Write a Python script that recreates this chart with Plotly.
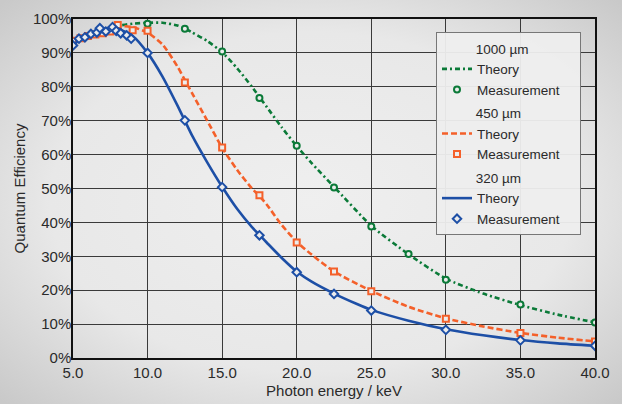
import base64
import plotly.graph_objects as go

# ---------------- data ----------------
# 1000 um
th1000_x = [5, 6, 7, 8, 9, 10, 11, 12, 12.5, 13, 14, 15, 16, 17, 17.5, 18, 19, 20, 21, 22.5, 25, 27.5, 30, 32.5, 35, 37.5, 40]
th1000_y = [93.5, 95.5, 97, 98, 98.6, 98.9, 98.9, 98.1, 97.2, 96, 93.5, 90.2, 85.5, 80, 77, 74, 68, 62.5, 57.5, 50.5, 39, 30.6, 23.4, 19.0, 15.6, 12.8, 10.5]
me1000_x = [10, 12.5, 15, 17.5, 20, 22.5, 25, 27.5, 30, 35, 40]
me1000_y = [98.6, 97.1, 90.4, 76.7, 62.6, 50.3, 38.8, 30.7, 23.1, 15.8, 10.5]

# 450 um
th450_x = [5, 6, 7, 8, 9, 10, 11, 12, 12.5, 13, 14, 15, 16, 17, 17.5, 18, 19, 20, 21, 22.5, 25, 27.5, 30, 32.5, 35, 37.5, 40]
th450_y = [93.5, 95.2, 96.8, 97.9, 97.6, 96, 92.5, 86, 82, 78, 70, 62, 55.5, 50, 47.8, 45.2, 39.2, 34.3, 30.5, 25.5, 19.8, 15.1, 11.7, 9.3, 7.4, 6.0, 4.9]
me450_x = [5, 5.5, 6, 6.5, 7, 7.5, 8, 9, 10, 12.5, 15, 17.5, 20, 22.5, 25, 30, 35, 40]
me450_y = [93.6, 94.3, 95.0, 95.4, 95.8, 96.3, 98.2, 96.7, 96.5, 81.3, 62.1, 48.0, 34.1, 25.5, 19.7, 11.6, 7.4, 4.9]

# 320 um
th320_x = [5, 6, 7, 7.7, 8, 9, 10, 11, 12, 12.5, 13, 14, 15, 16, 17, 17.5, 18, 19, 20, 21, 22.5, 24, 25, 27.5, 30, 32.5, 35, 37.5, 40]
th320_y = [92.5, 95, 97, 97.5, 97.2, 95, 90, 83, 74.5, 70, 65.5, 57.7, 50.5, 44, 38.6, 36.3, 34, 29.5, 25.5, 22.5, 19, 16, 14.2, 11, 8.5, 6.7, 5.3, 4.3, 3.6]
me320_x = [5, 5.4, 5.8, 6.2, 6.6, 6.8, 7.2, 7.65, 7.9, 8.2, 8.6, 8.9, 10, 12.5, 15, 17.5, 20, 22.5, 25, 30, 35, 40]
me320_y = [92.2, 94.2, 94.6, 95.6, 96.0, 97.3, 96.3, 97.6, 96.5, 95.8, 95.2, 94.2, 90.0, 70.1, 50.4, 36.2, 25.3, 18.9, 14.0, 8.3, 5.2, 3.6]

x_ticks = [5, 10, 15, 20, 25, 30, 35, 40]
y_ticks = [0, 10, 20, 30, 40, 50, 60, 70, 80, 90, 100]

GREEN = "#0b7a38"
ORANGE = "#f4602a"
BLUE = "#1d4fa6"
MFILL = "#ececec"
TXT = "#2a2a2a"
FONT = "Liberation Sans, Arial, Helvetica, sans-serif"

W, H = 622, 404
ML, MR, MT, MB = 73, 27, 19, 46
PW, PH = W - ML - MR, H - MT - MB
LEG_FS = 13.5
NB = "\u00a0"

fig = go.Figure()

def add_group(name, tx, ty, mx, my, color, dash, symbol, size):
    fig.add_trace(go.Scatter(
        x=tx, y=ty, mode="lines", name="Theory",
        line=dict(color=color, width=2.6, dash=dash, shape="spline", smoothing=0.6),
        legendgroup=name, legendgrouptitle=dict(text=NB * 9 + name, font=dict(size=LEG_FS, color=TXT))))
    fig.add_trace(go.Scatter(
        x=mx, y=my, mode="markers", name="Measurement" + NB * 4,
        marker=dict(symbol=symbol, size=size, color=MFILL,
                    line=dict(color=color, width=2)),
        legendgroup=name))

add_group("1000 µm", th1000_x, th1000_y, me1000_x, me1000_y, GREEN, "5px,3px,2px,3px", "circle", 6)
add_group("450 µm", th450_x, th450_y, me450_x, me450_y, ORANGE, "6px,3px", "square", 6)
add_group("320 µm", th320_x, th320_y, me320_x, me320_y, BLUE, "solid", "diamond", 6.5)

# soft vignette background
svg = (f'<svg xmlns="http://www.w3.org/2000/svg" width="{W}" height="{H}">'
       '<defs><radialGradient id="g" cx="50%" cy="50%" r="70%">'
       '<stop offset="0%" stop-color="#efefef"/><stop offset="60%" stop-color="#e8e8e8"/>'
       '<stop offset="100%" stop-color="#c9c9c9"/></radialGradient></defs>'
       f'<rect width="{W}" height="{H}" fill="url(#g)"/></svg>')
src = "data:image/svg+xml;base64," + base64.b64encode(svg.encode()).decode()

fig.update_layout(
    width=W, height=H,
    margin=dict(l=ML, r=MR, t=MT, b=MB, autoexpand=False),
    paper_bgcolor="#e6e6e6",
    plot_bgcolor="rgba(0,0,0,0)",
    font=dict(family=FONT, size=15, color=TXT),
    images=[dict(source=src, xref="paper", yref="paper",
                 x=-ML / PW, y=1 + MT / PH, sizex=W / PW, sizey=H / PH,
                 xanchor="left", yanchor="top", sizing="stretch", layer="below")],
    legend=dict(x=(436 - ML) / PW, y=(MT + PH - 32) / PH, xanchor="left", yanchor="top",
                bgcolor="rgba(238,238,238,0.95)", bordercolor="#777", borderwidth=1,
                font=dict(size=LEG_FS, color=TXT), tracegroupgap=3,
                itemwidth=30),
    showlegend=True,
)
fig.update_xaxes(range=[5, 40], tickvals=x_ticks, ticktext=[f"{v:.1f}" for v in x_ticks],
                 showgrid=True, gridcolor="#3a3a3a", gridwidth=1.2, automargin=False,
                 showline=True, linecolor="#111", linewidth=1.5, mirror=True,
                 zeroline=False, ticks="", tickfont=dict(size=15, color=TXT),
                 title=dict(text="Photon energy / keV", font=dict(size=15, color=TXT), standoff=6))
fig.update_yaxes(range=[0, 100], tickvals=y_ticks, ticktext=[f"{v}%" for v in y_ticks],
                 showgrid=True, gridcolor="#3a3a3a", gridwidth=1.2, automargin=False,
                 showline=True, linecolor="#111", linewidth=1.5, mirror=True,
                 zeroline=False, ticks="", ticklabelstandoff=-3,
                 tickfont=dict(size=15, color=TXT),
                 title=dict(text="Quantum Efficiency", font=dict(size=15, color=TXT), standoff=4))

fig.write_html("out.html",
               config={"displayModeBar": False},
               post_script=["document.body.style.margin='0px';document.body.style.overflow='hidden';"])
